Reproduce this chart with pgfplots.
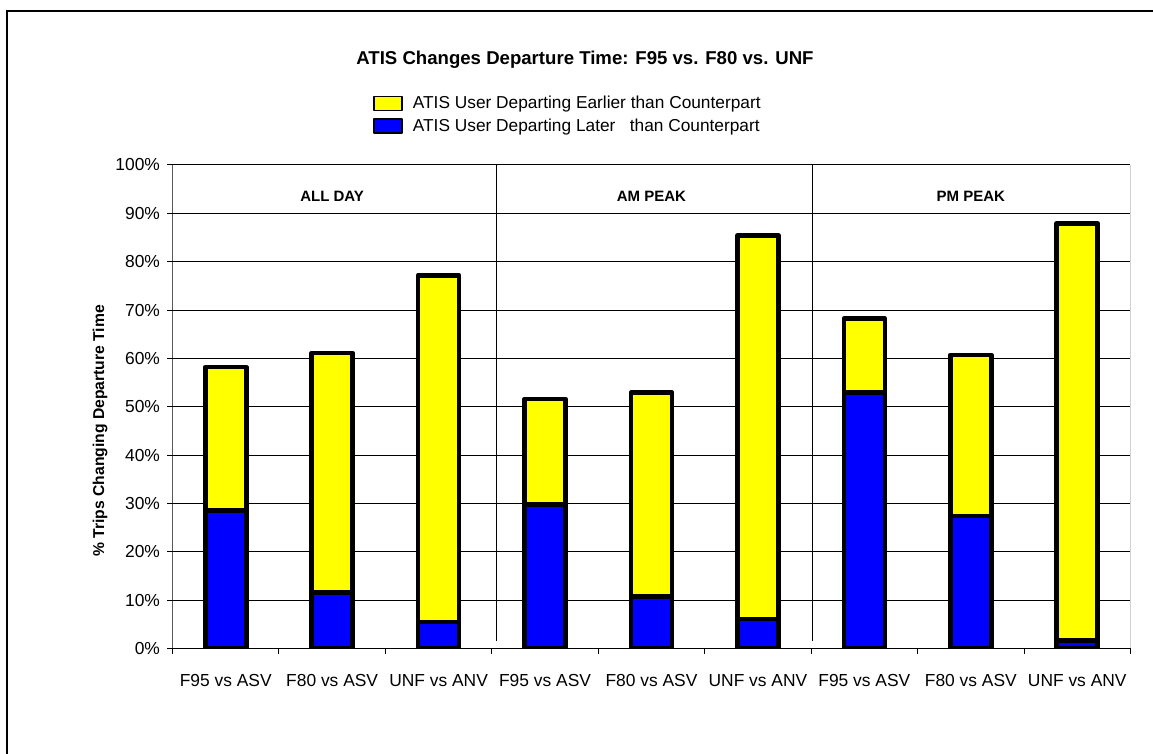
\documentclass[border=0pt]{standalone}
\usepackage{fontspec}
\setmainfont{Liberation Sans}
\usepackage{pgfplots}
\pgfplotsset{compat=1.18}
\definecolor{xlyellow}{RGB}{255,255,0}
\definecolor{xlblue}{RGB}{0,0,255}
\begin{document}
\begin{tikzpicture}
\path[use as bounding box] (0pt,0pt) rectangle (576.5pt,377pt);
\draw[line width=0.65pt] (3.5pt,0pt) -- (3.5pt,371.5pt) -- (576.5pt,371.5pt);
\node[font=\bfseries\fontsize{9.3}{11}\selectfont, anchor=base, inner sep=0pt] at (292.5pt,344.5pt) {ATIS Changes Departure Time: F95 vs. F80 vs. UNF};
\begin{axis}[
  at={(86.25pt,52.75pt)}, anchor=south west,
  scale only axis, width=479pt, height=241.75pt,
  xmin=-0.5, xmax=8.5, ymin=0, ymax=100,
  ybar stacked, bar width=20.5pt,
  axis line style={draw=none},
  tick pos=left, tick align=outside,
  major tick length=2.75pt,
  tick style={black, line width=0.5pt},
  xtick={-0.5,0.5,1.5,2.5,3.5,4.5,5.5,6.5,7.5,8.5}, xticklabels={},
  extra x ticks={0,1,2,3,4,5,6,7,8},
  extra x tick labels={F95 vs ASV,F80 vs ASV,UNF vs ANV,F95 vs ASV,F80 vs ASV,UNF vs ANV,F95 vs ASV,F80 vs ASV,UNF vs ANV},
  extra x tick style={major tick length=0pt, xticklabel style={yshift=-9.35pt}},
  ytick={0,10,20,30,40,50,60,70,80,90,100},
  yticklabels={0\%,10\%,20\%,30\%,40\%,50\%,60\%,70\%,80\%,90\%,100\%},
  tick label style={font=\fontsize{8.7}{10}\selectfont},
  ymajorgrids, major grid style={black, line width=0.5pt},
  ylabel={\% Trips Changing Departure Time},
  ylabel style={font=\bfseries\fontsize{7.85}{9}\selectfont, at={(axis description cs:-0.0757,0.45)}, anchor=center},
  legend style={at={(axis description cs:0.2093,1.1468)}, anchor=north west, draw=none, fill=none, inner sep=0pt,
    font=\fontsize{8.65}{10}\selectfont, row sep=2.3pt,
    nodes={inner ysep=0pt, inner xsep=5pt, text height=7pt, text depth=2pt}},
  legend cell align=left,
  reverse legend,
  legend image code/.code={\draw[#1, line width=0.75pt] (0pt,-3.5pt) rectangle (14pt,3.5pt);},
  every axis plot/.append style={draw=black, line width=2.35pt, line join=round},
]
\addplot[fill=xlblue] coordinates {(0,28.6) (1,11.6) (2,5.5) (3,29.8) (4,10.7) (5,6.1) (6,52.9) (7,27.4) (8,1.6)};
\addlegendentry{ATIS User Departing Later\ \ \ than Counterpart}
\addplot[fill=xlyellow] coordinates {(0,29.6) (1,49.5) (2,71.7) (3,21.8) (4,42.2) (5,79.3) (6,15.3) (7,33.3) (8,86.3)};
\addlegendentry{ATIS User Departing Earlier than Counterpart}
\draw[black, line width=0.5pt] (axis cs:2.546,100) -- (axis cs:2.546,1.55);
\draw[black, line width=0.5pt] (axis cs:5.515,100) -- (axis cs:5.515,1.55);
\draw[black, line width=0.5pt] (rel axis cs:0,0) -- (rel axis cs:0,1);
\draw[gray, line width=0.5pt] (rel axis cs:1,0) -- (rel axis cs:1,1);
\node[font=\bfseries\fontsize{7.5}{9}\selectfont, anchor=base] at (axis cs:1,92.55) {ALL DAY};
\node[font=\bfseries\fontsize{7.5}{9}\selectfont, anchor=base] at (axis cs:4,92.55) {AM PEAK};
\node[font=\bfseries\fontsize{7.5}{9}\selectfont, anchor=base] at (axis cs:7,92.55) {PM PEAK};
\end{axis}
\end{tikzpicture}
\end{document}
